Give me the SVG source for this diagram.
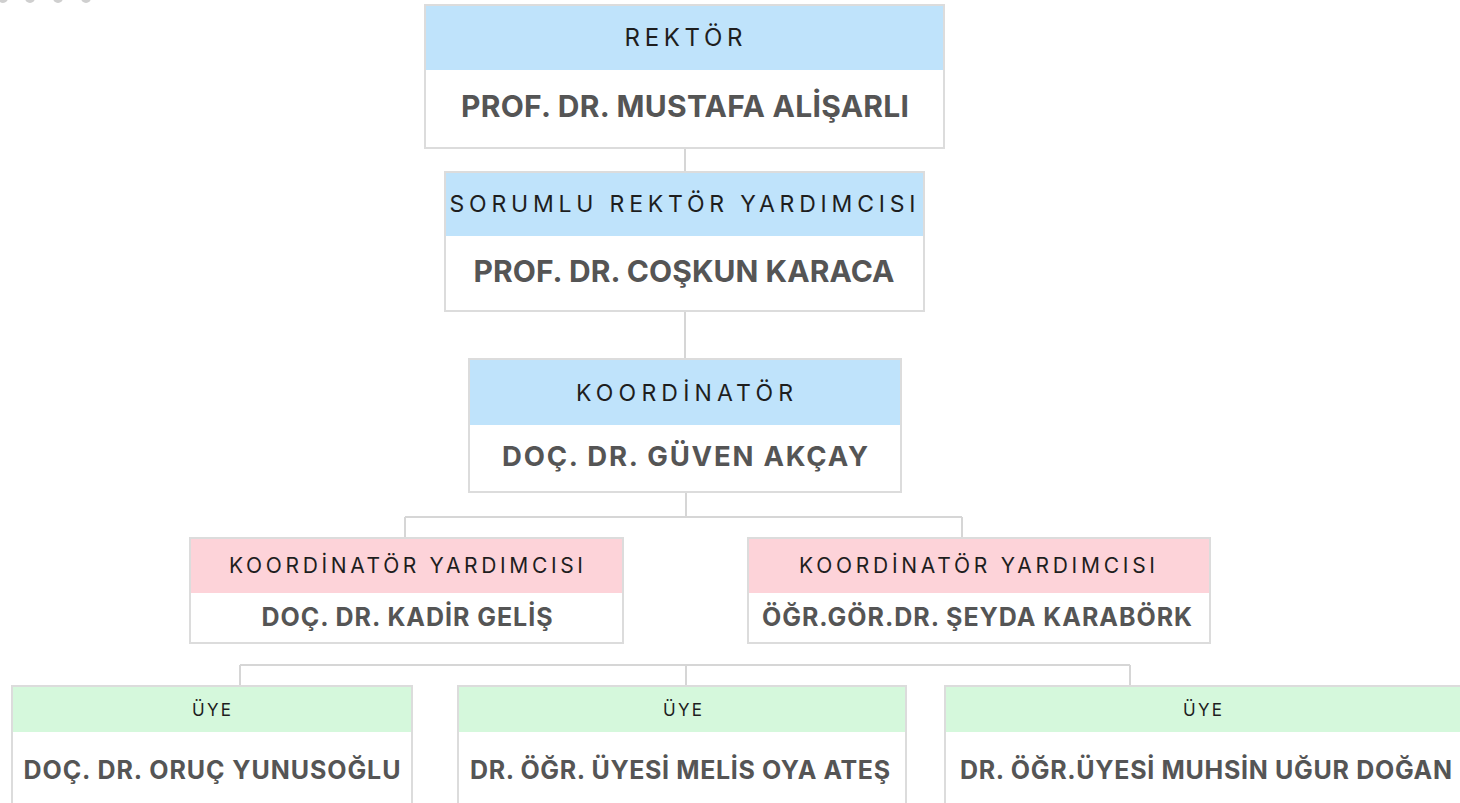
<svg xmlns="http://www.w3.org/2000/svg" width="1460" height="803" viewBox="0 0 1460 803">
<style>
.bg{fill:#ffffff}
.frame{fill:none;stroke:#dcdcdc;stroke-width:2}
.body{fill:#ffffff}
.blue{fill:#bfe3fb}
.pink{fill:#fdd3d9}
.green{fill:#d5f8dc}
.hdr{font-family:Inter,"Noto Sans","Liberation Sans",sans-serif;font-weight:400;fill:#1e1e1e;text-anchor:middle}
.nm{font-family:Inter,"Noto Sans","Liberation Sans",sans-serif;font-weight:700;fill:#555555;text-anchor:middle}
.conn{fill:none;stroke:#d6d6d6;stroke-width:2}
.dot{fill:#cfcfcf}
</style>
<rect class="bg" x="0" y="0" width="1460" height="803"/>
<g id="dots">
<circle class="dot" cx="3" cy="-2" r="5"/>
<circle class="dot" cx="30" cy="-2" r="5"/>
<circle class="dot" cx="58" cy="-2" r="5"/>
<circle class="dot" cx="86" cy="-2" r="5"/>
</g>
<g id="connectors">
<path class="conn" d="M685 148 V172"/>
<path class="conn" d="M685 311 V359"/>
<path class="conn" d="M686 492 V517 M405 517 H962 M405 517 V538 M962 517 V538"/>
<path class="conn" d="M240 665 H1130 M240 665 V686 M686 665 V686 M1130 665 V686"/>
</g>
<g id="rektor">
<rect class="body" x="425" y="5" width="519" height="143"/>
<rect class="blue" x="425" y="5" width="519" height="65"/>
<rect class="frame" x="425" y="5" width="519" height="143"/>
<text class="hdr" x="685" y="46" font-size="24" letter-spacing="3" textLength="121">REKTÖR</text>
<text class="nm" x="685" y="117" font-size="30" textLength="448">PROF. DR. MUSTAFA ALİŞARLI</text>
</g>
<g id="rektor-yardimcisi">
<rect class="body" x="445" y="172" width="479" height="139"/>
<rect class="blue" x="445" y="172" width="479" height="64"/>
<rect class="frame" x="445" y="172" width="479" height="139"/>
<text class="hdr" x="684" y="212" font-size="23" letter-spacing="3" textLength="469">SORUMLU REKTÖR YARDIMCISI</text>
<text class="nm" x="684" y="282" font-size="30" textLength="421">PROF. DR. COŞKUN KARACA</text>
</g>
<g id="koordinator">
<rect class="body" x="469" y="359" width="432" height="133"/>
<rect class="blue" x="469" y="359" width="432" height="66"/>
<rect class="frame" x="469" y="359" width="432" height="133"/>
<text class="hdr" x="686" y="401" font-size="23" letter-spacing="3" textLength="220">KOORDİNATÖR</text>
<text class="nm" x="685" y="466" font-size="27.5" textLength="366">DOÇ. DR. GÜVEN AKÇAY</text>
</g>
<g id="koord-yard-1">
<rect class="body" x="190" y="538" width="433" height="105"/>
<rect class="pink" x="190" y="538" width="433" height="55"/>
<rect class="frame" x="190" y="538" width="433" height="105"/>
<text class="hdr" x="407" y="573" font-size="21" letter-spacing="2" textLength="356">KOORDİNATÖR YARDIMCISI</text>
<text class="nm" x="407" y="626" font-size="25" textLength="291">DOÇ. DR. KADİR GELİŞ</text>
</g>
<g id="koord-yard-2">
<rect class="body" x="748" y="538" width="462" height="105"/>
<rect class="pink" x="748" y="538" width="462" height="55"/>
<rect class="frame" x="748" y="538" width="462" height="105"/>
<text class="hdr" x="978" y="573" font-size="21" letter-spacing="2" textLength="358">KOORDİNATÖR YARDIMCISI</text>
<text class="nm" x="977" y="626" font-size="25" textLength="430">ÖĞR.GÖR.DR. ŞEYDA KARABÖRK</text>
</g>
<g id="uye-1">
<rect class="body" x="12" y="686" width="400" height="130"/>
<rect class="green" x="12" y="686" width="400" height="46"/>
<rect class="frame" x="12" y="686" width="400" height="130"/>
<text class="hdr" x="212" y="716" font-size="17" letter-spacing="1" textLength="40">ÜYE</text>
<text class="nm" x="212" y="779" font-size="25" textLength="377">DOÇ. DR. ORUÇ YUNUSOĞLU</text>
</g>
<g id="uye-2">
<rect class="body" x="458" y="686" width="448" height="130"/>
<rect class="green" x="458" y="686" width="448" height="46"/>
<rect class="frame" x="458" y="686" width="448" height="130"/>
<text class="hdr" x="683" y="716" font-size="17" letter-spacing="1" textLength="40">ÜYE</text>
<text class="nm" x="680" y="779" font-size="25" textLength="420">DR. ÖĞR. ÜYESİ MELİS OYA ATEŞ</text>
</g>
<g id="uye-3">
<rect class="body" x="945" y="686" width="530" height="130"/>
<rect class="green" x="945" y="686" width="530" height="46"/>
<rect class="frame" x="945" y="686" width="530" height="130"/>
<text class="hdr" x="1203" y="716" font-size="17" letter-spacing="1" textLength="40">ÜYE</text>
<text class="nm" x="1206" y="779" font-size="25" textLength="492">DR. ÖĞR.ÜYESİ MUHSİN UĞUR DOĞAN</text>
</g>
</svg>
